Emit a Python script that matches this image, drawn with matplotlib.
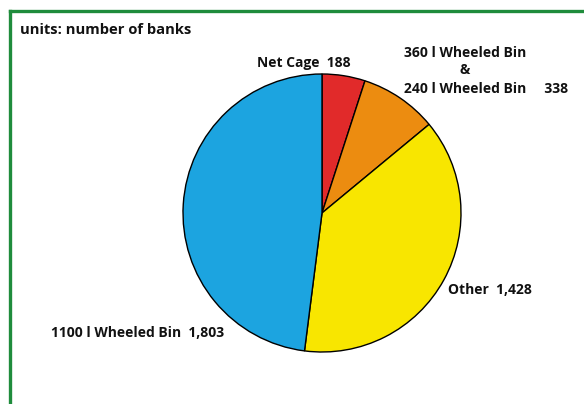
import matplotlib.pyplot as plt
from matplotlib.lines import Line2D

# number of banks per container type
categories = ["Net Cage", "360 l Wheeled Bin\n&\n240 l Wheeled Bin", "Other", "1100 l Wheeled Bin"]
values = [188, 338, 1428, 1803]
colors = ["#e12a2a", "#ec8c10", "#f8e600", "#1ca4e0"]

W, H = 584, 404
fig = plt.figure(figsize=(W / 100, H / 100), dpi=100)
ax = fig.add_axes([0, 0, 1, 1])
ax.set_xlim(0, W)
ax.set_ylim(0, H)
ax.set_aspect("equal")
ax.axis("off")

def py(y):
    # pixel rows counted from the top
    return H - y

ax.pie(values, colors=colors, startangle=90, counterclock=False,
       center=(322, py(213)), radius=139,
       wedgeprops=dict(edgecolor="black", linewidth=1.0))
ax.set_xlim(0, W)
ax.set_ylim(0, H)

# green frame (left and top edges)
fig.add_artist(Line2D([10 / W, 10 / W], [0, 1 - 11 / H], color="#1f8c3c", lw=2.4,
                      transform=fig.transFigure))
fig.add_artist(Line2D([10 / W, 1], [1 - 11 / H, 1 - 11 / H], color="#1f8c3c", lw=2.4,
                      transform=fig.transFigure))

font = dict(family="Open Sans", weight="bold", size=10.0, color="#111111")

ax.text(20, py(30), "units: number of banks", ha="left", va="center",
        **{**font, "size": 10.6})

ax.text(257, py(63), f"{categories[0]}  {values[0]}", ha="left", va="center", **font)

top, amp, bottom = categories[1].split("\n")
ax.text(404, py(53), top, ha="left", va="center", **font)
ax.text(465, py(70), amp, ha="center", va="center", **font)
ax.text(404, py(89), f"{bottom}     {values[1]}", ha="left", va="center", **font)

ax.text(448, py(290), f"{categories[2]}  {values[2]:,}", ha="left", va="center", **font)
ax.text(51, py(333), f"{categories[3]}  {values[3]:,}", ha="left", va="center", **font)

fig.savefig("out.png", dpi=100, facecolor="white")
